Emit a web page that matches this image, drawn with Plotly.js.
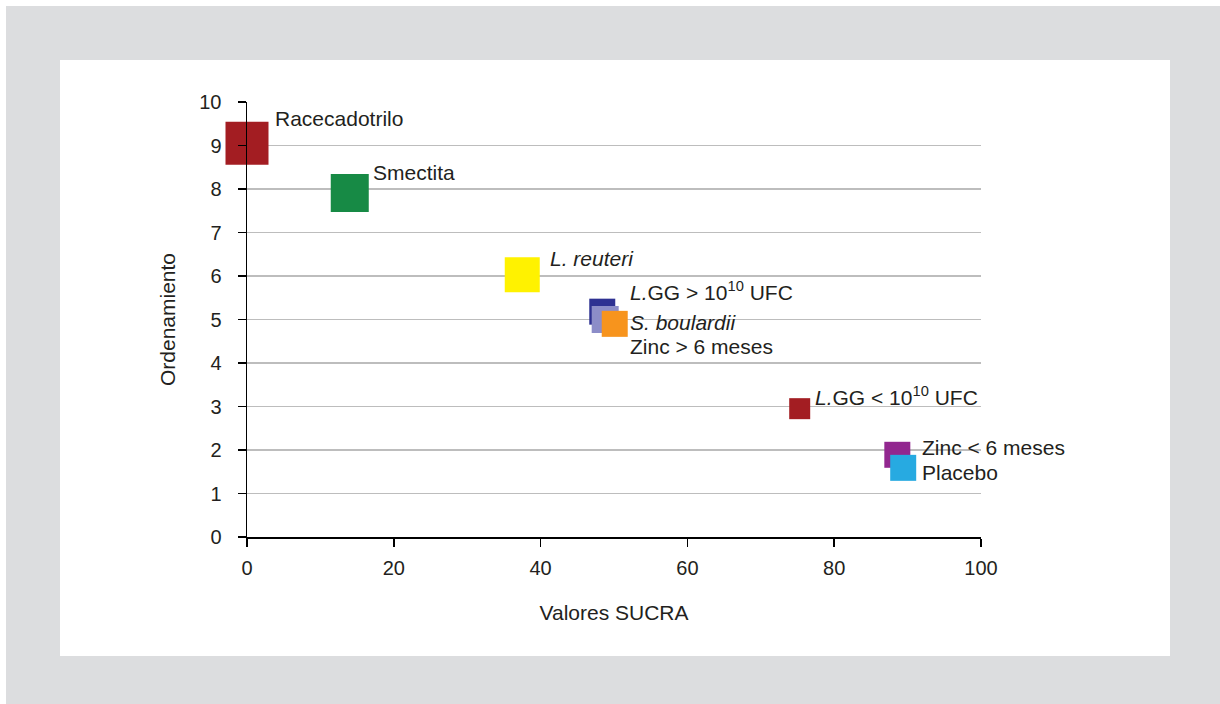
<!DOCTYPE html>
<html>
<head>
<meta charset="utf-8">
<script src="https://cdn.plot.ly/plotly-3.0.1.min.js"></script>
<style>
  html, body { margin: 0; padding: 0; background: #ffffff; }
  #frame { position: absolute; left: 6px; top: 6px; width: 1214px; height: 698px; background: #dcdddf; }
  #chart { position: absolute; left: 60px; top: 60px; width: 1110px; height: 596px; background: #ffffff; }
</style>
</head>
<body>
<div id="frame"></div>
<div id="chart"></div>
<script>
// Data
const labels = [
  "Racecadotrilo",
  "Smectita",
  "<i>L. reuteri</i>",
  "<i>L.</i>GG &gt; 10<sup>10</sup> UFC",
  "<i>S. boulardii</i>",
  "Zinc &gt; 6 meses",
  "<i>L.</i>GG &lt; 10<sup>10</sup> UFC",
  "Zinc &lt; 6 meses",
  "Placebo"
];
const sucra = [0, 14.0, 37.5, 48.4, 48.8, 50.1, 75.3, 88.6, 89.4];
const ranking = [9.05, 7.91, 6.03, 5.18, 5.0, 4.9, 2.95, 1.89, 1.59];
const xTicks = [0, 20, 40, 60, 80, 100];
const yTicks = [0, 1, 2, 3, 4, 5, 6, 7, 8, 9, 10];

// Styles
const colors = ["#a31d22", "#178a45", "#fff200", "#2e3192", "#8c8dc8", "#f7941d", "#a31d22", "#92278f", "#27aae1"];
const sizes = [43, 38, 35, 26, 27, 26, 21, 26, 26];
const labelDx = [25.5, 21.5, 25.5, 26, 22.5, 13, 13.5, 23, 17];
const labelDy = [25.3, 20, 16.5, 20.5, -2.5, -23, 12.5, 7, -5];

const textColor = "#231f20";
const fontFam = "Liberation Sans, Arial, sans-serif";

const traces = sucra.map((x, i) => ({
  type: "scatter",
  mode: "markers",
  x: [x],
  y: [ranking[i]],
  marker: { symbol: "square", size: sizes[i], color: colors[i], line: { width: 0 } },
  hoverinfo: "skip",
  showlegend: false,
  cliponaxis: false
}));

const annotations = labels.map((t, i) => ({
  x: sucra[i], y: ranking[i], xref: "x", yref: "y",
  text: t, showarrow: false,
  xanchor: "left", yanchor: "middle",
  xshift: labelDx[i], yshift: labelDy[i],
  font: { family: fontFam, size: 21, color: textColor }
}));

const layout = {
  width: 1110, height: 596,
  margin: { l: 187, r: 189, t: 42, b: 119 },
  paper_bgcolor: "#ffffff",
  plot_bgcolor: "#ffffff",
  font: { family: fontFam, size: 20, color: textColor },
  xaxis: {
    range: [0, 100],
    tickvals: xTicks,
    ticktext: xTicks.map(String),
    showgrid: false, zeroline: false,
    showline: true, linecolor: "#000000", linewidth: 1.5,
    ticks: "outside", ticklen: 8, tickwidth: 1.5, tickcolor: "#000000",
    ticklabelstandoff: 4,
    tickfont: { family: fontFam, size: 20, color: textColor },
    title: { text: "Valores SUCRA", font: { family: fontFam, size: 21, color: textColor }, standoff: 28 },
    fixedrange: true
  },
  yaxis: {
    range: [0, 10],
    tickvals: yTicks,
    ticktext: yTicks.map(String),
    showgrid: true, gridcolor: "#bdbdbd", gridwidth: 1.5,
    zeroline: false,
    showline: true, linecolor: "#000000", linewidth: 1.5,
    ticks: "outside", ticklen: 8, tickwidth: 1.5, tickcolor: "#000000",
    ticklabelstandoff: 12,
    tickfont: { family: fontFam, size: 20, color: textColor },
    title: { text: "Ordenamiento", font: { family: fontFam, size: 21, color: textColor }, standoff: 18 },
    fixedrange: true
  },
  annotations: annotations,
  showlegend: false
};

Plotly.newPlot("chart", traces, layout, { displayModeBar: false, staticPlot: true });
</script>
</body>
</html>
